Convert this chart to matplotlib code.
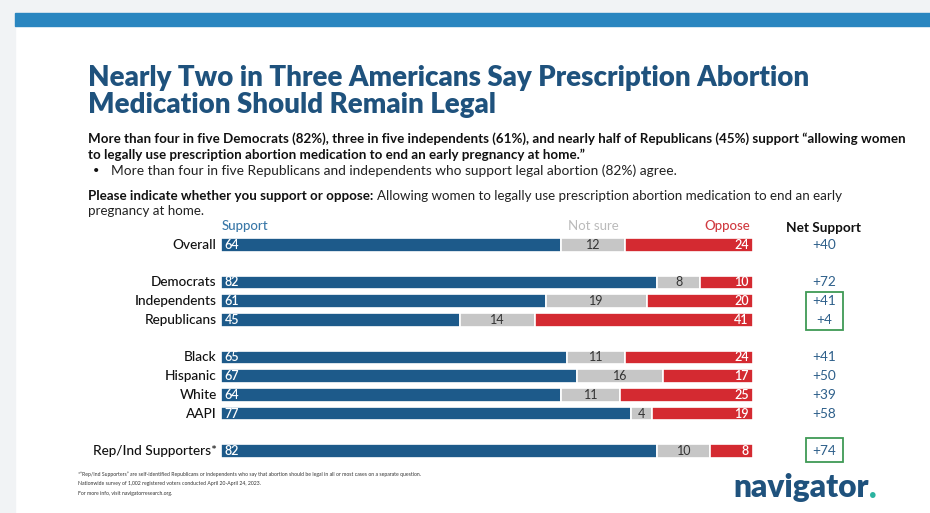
import matplotlib
matplotlib.use("Agg")
import matplotlib.pyplot as plt
from matplotlib.patches import Rectangle
import numpy as np

categories = ["Overall", "Democrats", "Independents", "Republicans",
              "Black", "Hispanic", "White", "AAPI", "Rep/Ind Supporters*"]
positions = [0, 2, 3, 4, 6, 7, 8, 9, 11]
support = [64, 82, 61, 45, 65, 67, 64, 77, 82]
not_sure = [12, 8, 19, 14, 11, 16, 11, 4, 10]
oppose = [24, 10, 20, 41, 24, 17, 25, 19, 8]
net_support = ["+40", "+72", "+41", "+4", "+41", "+50", "+39", "+58", "+74"]

BLUE = "#1d5a8a"
GRAY = "#c6c6c6"
RED = "#d42a31"
TITLE = "#1f527d"
FONT = ["Lato", "DejaVu Sans"]

W, H = 930, 513
fig = plt.figure(figsize=(W / 100, H / 100), dpi=100)
fig.patch.set_facecolor("white")
renderer = fig.canvas.get_renderer()

def fx(x): return x / W
def fy(y): return 1 - y / H

def fit_text(x, y, s, width_px, size, **kw):
    t = fig.text(fx(x), fy(y), s, fontsize=size, va="center", ha="left", family=FONT, **kw)
    w = t.get_window_extent(renderer=renderer).width
    t.set_fontsize(size * width_px / w)
    return t

# background decorations
fig.patches.append(Rectangle((0, 0), fx(15), 1, transform=fig.transFigure, color="#f1f3f5", zorder=0))
fig.patches.append(Rectangle((0, fy(13)), 1, 13 / H, transform=fig.transFigure, color="#f1f3f5", zorder=0))
fig.patches.append(Rectangle((fx(15), fy(26)), 1, 13 / H, transform=fig.transFigure, color="#2a86c0", zorder=1))

# axes
y0, y11 = 245, 451
ppu = (y11 - y0) / 11
top = y0 - 0.5 * ppu
bot = y11 + 0.5 * ppu
ax = fig.add_axes([fx(221), fy(bot), fx(753) - fx(221), (bot - top) / H])
ax.set_xlim(0, 100)
ax.set_ylim(11.5, -0.5)
ax.axis("off")

pos = np.array(positions)
s = np.array(support)
n = np.array(not_sure)
o = np.array(oppose)
h = 0.72
ax.barh(pos, s, height=h, color=BLUE, edgecolor="white", linewidth=1.2)
ax.barh(pos, n, left=s, height=h, color=GRAY, edgecolor="white", linewidth=1.2)
ax.barh(pos, o, left=s + n, height=h, color=RED, edgecolor="white", linewidth=1.2)

for p, c, sv, nv, ov, ns in zip(pos, categories, s, n, o, net_support):
    ax.text(0.7, p, str(sv), color="white", va="center", ha="left", fontsize=9, family=FONT,
            fontweight="semibold")
    ax.text(sv + nv / 2, p, str(nv), color="#333333", va="center", ha="center", fontsize=9, family=FONT)
    ax.text(99.2, p, str(ov), color="white", va="center", ha="right", fontsize=9, family=FONT,
            fontweight="semibold")
    ax.text(-0.8, p, c, color="#111111", va="center", ha="right", fontsize=9.8, family=FONT,
            fontweight="medium")
    ax.text(113.4, p, ns, color="#2d5f8a", va="center", ha="center", fontsize=9.8, family=FONT)

# headers
ax.text(0.2, -1.02, "Support", color="#3a78a8", va="center", ha="left", fontsize=9.5, family=FONT,
        fontweight="medium")
ax.text(70, -1.02, "Not sure", color="#bbbbbb", va="center", ha="center", fontsize=9.5, family=FONT)
ax.text(99.4, -1.02, "Oppose", color="#d03a40", va="center", ha="right", fontsize=9.5, family=FONT,
        fontweight="medium")
ax.text(113.2, -0.9, "Net Support", color="#111111", va="center", ha="center", fontsize=9.8,
        family=FONT, fontweight="bold")

# green boxes
for (ya, yb) in [(2.51, 4.54), (10.3, 11.59)]:
    ax.add_patch(Rectangle((110.0, ya), 6.9, yb - ya, fill=False, edgecolor="#3f9a55",
                           linewidth=1.3, clip_on=False))

# title
t = fit_text(88, 78, "Nearly Two in Three Americans Say Prescription Abortion", 720, 19,
             color=TITLE, fontweight="heavy")
fig.text(fx(88), fy(105), "Medication Should Remain Legal", color=TITLE,
         fontsize=t.get_fontsize(), fontweight="heavy", va="center", ha="left", family=FONT)

t = fit_text(88, 139, "More than four in five Democrats (82%), three in five independents (61%), and nearly half of Republicans (45%) support \u201callowing women",
             812, 9, color="#111111", fontweight="bold")
fig.text(fx(88), fy(155), "to legally use prescription abortion medication to end an early pregnancy at home.\u201d",
         color="#111111", fontsize=t.get_fontsize(), fontweight="bold", va="center", ha="left", family=FONT)
fig.text(fx(93), fy(171), "\u2022", color="#111111", fontsize=8, va="center", ha="left", family=FONT)
fit_text(111, 171, "More than four in five Republicans and independents who support legal abortion (82%) agree.",
         565, 9, color="#222222")
t1 = fig.text(fx(88), fy(196), "Please indicate whether you support or oppose:",
              color="#111111", fontsize=t.get_fontsize(), fontweight="bold", va="center", ha="left", family=FONT)
bb = t1.get_window_extent(renderer=renderer)
fig.text(bb.x1 / W + fx(4), fy(196), "Allowing women to legally use prescription abortion medication to end an early",
         color="#222222", fontsize=t.get_fontsize(), va="center", ha="left", family=FONT)
fig.text(fx(88), fy(211), "pregnancy at home.",
         color="#222222", fontsize=t.get_fontsize(), va="center", ha="left", family=FONT)

# footer
foot = ["*\u201cRep/Ind Supporters\u201d are self-identified Republicans or independents who say that abortion should be legal in all or most cases on a separate question.",
        "Nationwide survey of 1,002 registered voters conducted April 20-April 24, 2023.",
        "For more info, visit navigatorresearch.org."]
ft = fit_text(78, 474, foot[0], 345, 5, color="#333333")
for i, line in enumerate(foot[1:], start=1):
    fig.text(fx(78), fy(474 + 9.5 * i), line, color="#333333", fontsize=ft.get_fontsize(),
             va="center", ha="left", family=FONT)

# logo
lg = fit_text(733, 488, "navigator", 136, 20, color=TITLE, fontweight="heavy")
lb = lg.get_window_extent(renderer=renderer)
fig.text(lb.x1 / W, fy(488), ".", color="#2bb3a0", fontsize=lg.get_fontsize(), fontweight="heavy",
         va="center", ha="left", family=FONT)

fig.savefig("out.png", dpi=100)
